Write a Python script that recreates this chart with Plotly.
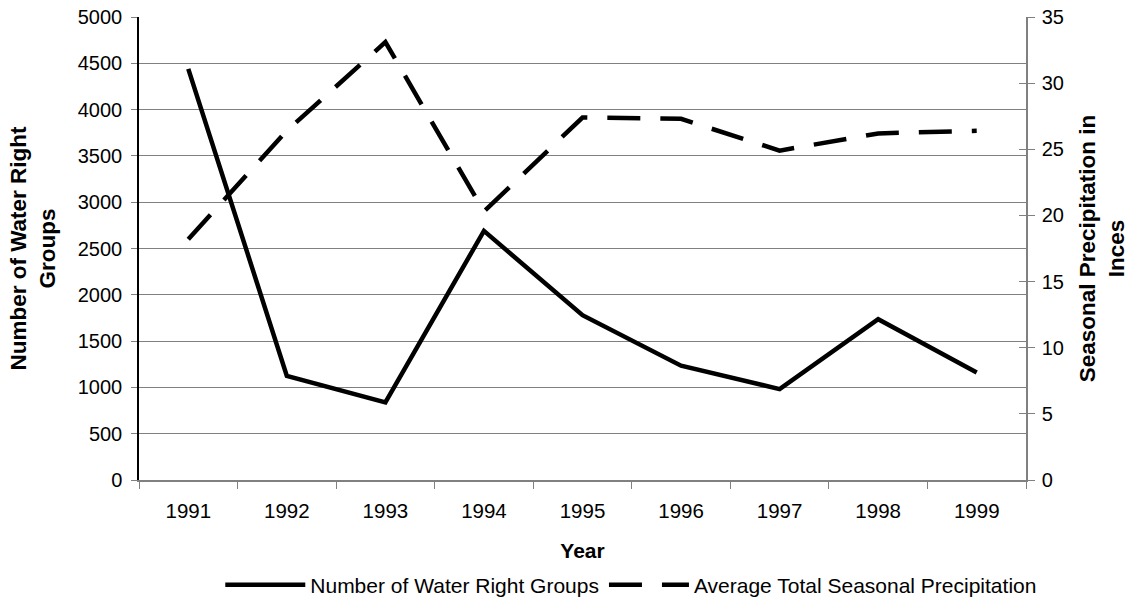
import plotly.graph_objects as go

years = ["1991", "1992", "1993", "1994", "1995", "1996", "1997", "1998", "1999"]
groups = [4440, 1125, 838, 2690, 1780, 1235, 982, 1737, 1162]
precip = [18.2, 26.4, 33.1, 20.3, 27.4, 27.3, 24.9, 26.2, 26.4]

name_groups = "Number of Water Right Groups"
name_precip = "Average Total Seasonal Precipitation"

FONT = "Liberation Sans, Arial, sans-serif"
GRAY = "#808080"

fig = go.Figure()
fig.add_trace(go.Scatter(x=years, y=groups, name=name_groups, mode="lines",
                         line=dict(color="black", width=4.5)))
fig.add_trace(go.Scatter(x=years, y=precip, name=name_precip, mode="lines", yaxis="y2",
                         line=dict(color="black", width=4.5, dash="33px,20px")))
# helper trace so the inner-tick overlay axis is rendered
fig.add_trace(go.Scatter(x=years, y=precip, yaxis="y3", mode="lines", showlegend=False,
                         hoverinfo="skip", line=dict(width=0, color="rgba(0,0,0,0)")))

fig.update_layout(
    width=1134, height=601,
    margin=dict(l=139, r=108, t=17, b=121, autoexpand=False),
    paper_bgcolor="white", plot_bgcolor="white",
    font=dict(family=FONT, size=20, color="black"),
    showlegend=True,
    legend=dict(orientation="h", x=0.555, xanchor="center", y=-0.227, yanchor="middle",
                font=dict(size=21), itemwidth=80, tracegroupgap=0,
                bgcolor="rgba(0,0,0,0)"),
    xaxis=dict(type="category", tickson="boundaries", ticks="outside", ticklen=7,
               tickcolor=GRAY, showline=True, linecolor=GRAY, linewidth=1.5,
               showgrid=False, range=[-0.5, 8.5], automargin=False,
               ticklabelstandoff=12,
               title=dict(text="<b>Year</b>", font=dict(size=21), standoff=22),
               tickfont=dict(size=20.5)),
    yaxis=dict(range=[0, 5000], dtick=500, ticks="outside", ticklen=6, tickcolor=GRAY,
               showline=True, linecolor="black", linewidth=1.5, automargin=False,
               showgrid=True, gridcolor=GRAY, gridwidth=1, zeroline=False,
               tickfont=dict(size=20), ticklabelstandoff=5, ticklabeloverflow="allow",
               title=dict(text="<b>Number of Water Right<br>Groups</b>", font=dict(size=22.5),
                          standoff=16)),
    yaxis2=dict(range=[0, 35], dtick=5, overlaying="y", side="right", anchor="x",
                ticks="outside", ticklen=7, tickcolor=GRAY, automargin=False,
                showline=True, linecolor=GRAY, linewidth=1.5, showgrid=False, zeroline=False,
                tickfont=dict(size=20), ticklabelstandoff=3, ticklabeloverflow="allow",
                title=dict(text="<b>Seasonal Precipitation in<br>Inces</b>", font=dict(size=22.5),
                           standoff=16)),
    yaxis3=dict(range=[0, 35], dtick=5, overlaying="y", side="right", anchor="x",
                ticks="inside", ticklen=7, tickcolor=GRAY, showticklabels=False,
                automargin=False, showline=False, showgrid=False, zeroline=False),
)

# remove the default 8px page margin so the figure fills the window exactly
fig.write_html("out.html", config={"displayModeBar": False},
               post_script="document.body.style.margin='0px';")
